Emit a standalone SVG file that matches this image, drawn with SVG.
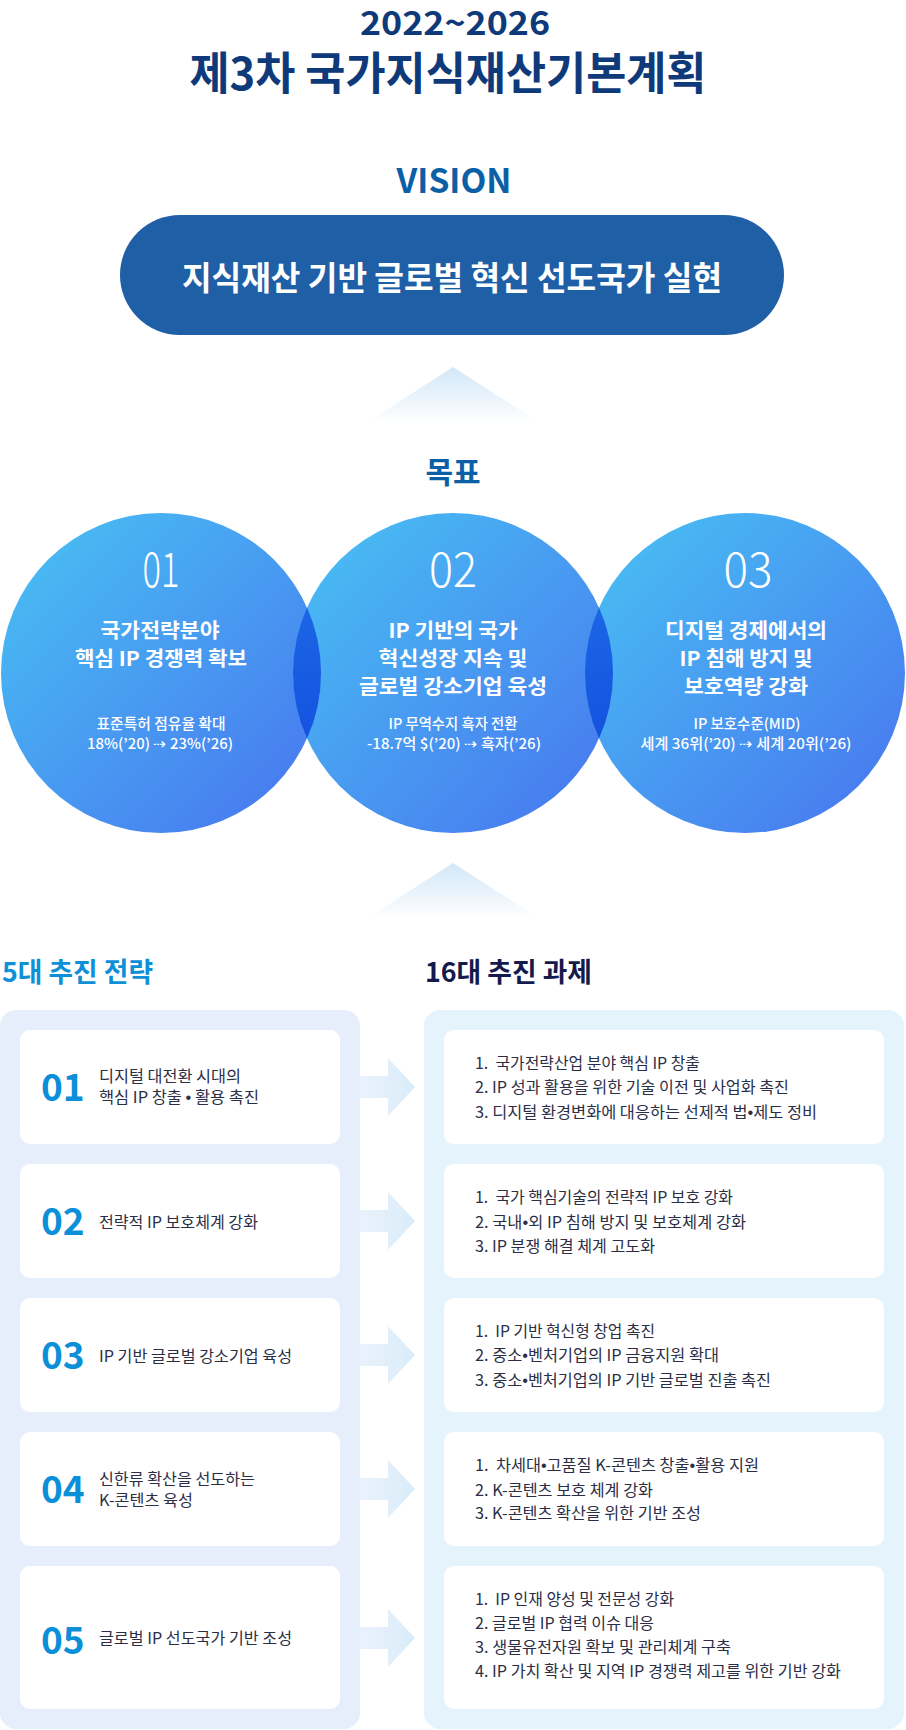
<svg xmlns="http://www.w3.org/2000/svg" width="906" height="1730" viewBox="0 0 906 1730">
<defs>
<style>
text { font-family: "Noto Sans CJK KR", "Noto Sans", sans-serif; }
.hdr { font-weight: 700; fill: #0f3a7a; text-anchor: middle; }
.sec { font-weight: 700; fill: #0b5fa6; text-anchor: middle; }
.ctitle { font-weight: 700; fill: #ffffff; font-size: 20px; text-anchor: middle; }
.csub { font-weight: 500; fill: #ffffff; font-size: 14.5px; text-anchor: middle; }
.cnum { font-weight: 200; fill: #ffffff; font-size: 48px; text-anchor: middle; }
.snum { font-weight: 700; fill: #0a8fd8; font-size: 37px; }
.slbl { font-weight: 400; fill: #2b2e45; font-size: 16px; }
.task { font-weight: 400; fill: #2b2e45; font-size: 16px; white-space: pre; }
.dot { font-family: "Liberation Sans", sans-serif; }
.card { fill: #ffffff; }
</style>
<linearGradient id="gCircle" x1="0" y1="0" x2="1" y2="1">
<stop offset="0" stop-color="#48c3f3"/>
<stop offset="1" stop-color="#4873ef"/>
</linearGradient>
<linearGradient id="gLens" x1="0" y1="0" x2="0" y2="1">
<stop offset="0" stop-color="#1c66e6"/>
<stop offset="1" stop-color="#1452df"/>
</linearGradient>
<linearGradient id="gTri" x1="0" y1="0" x2="0" y2="1">
<stop offset="0" stop-color="#d2e7f8"/>
<stop offset="1" stop-color="#ffffff"/>
</linearGradient>
<linearGradient id="gArrow" gradientUnits="userSpaceOnUse" x1="360" y1="0" x2="415" y2="0">
<stop offset="0" stop-color="#eaf2fc"/>
<stop offset="1" stop-color="#d9ecf9"/>
</linearGradient>
<path id="arrowShape" d="M360,-11 H388 V-29 L415,0 L388,29 V11 H360 Z" fill="url(#gArrow)"/>
</defs>

<rect x="0" y="0" width="906" height="1730" fill="#ffffff"/>

<g id="header">
<text class="hdr" x="455" y="35" font-size="33" textLength="190" lengthAdjust="spacingAndGlyphs">2022~2026</text>
<text class="hdr" x="448" y="90" font-size="45" textLength="517" lengthAdjust="spacingAndGlyphs">제3차 국가지식재산기본계획</text>
</g>

<g id="vision">
<text class="sec" x="454" y="193" font-size="34" textLength="115" lengthAdjust="spacingAndGlyphs">VISION</text>
<rect x="120" y="215" width="664" height="120" rx="60" fill="#1f5fa6"/>
<text x="452" y="290" font-size="33" font-weight="700" fill="#ffffff" text-anchor="middle" textLength="540" lengthAdjust="spacingAndGlyphs">지식재산 기반 글로벌 혁신 선도국가 실현</text>
</g>

<g id="connectors">
<polygon points="453,367 366,423 540,423" fill="url(#gTri)"/>
<polygon points="453,863 366,919 540,919" fill="url(#gTri)"/>
<use href="#arrowShape" transform="translate(0,1087)"/>
<use href="#arrowShape" transform="translate(0,1221)"/>
<use href="#arrowShape" transform="translate(0,1355)"/>
<use href="#arrowShape" transform="translate(0,1489)"/>
<use href="#arrowShape" transform="translate(0,1638)"/>
</g>

<g id="goal-label">
<text class="sec" x="453" y="483" font-size="30">목표</text>
</g>

<g id="goal-circles">
<circle cx="161" cy="673" r="160" fill="url(#gCircle)"/>
<circle cx="453" cy="673" r="160" fill="url(#gCircle)"/>
<circle cx="745" cy="673" r="160" fill="url(#gCircle)"/>
<path d="M307,607.5 A160,160 0 0 1 307,738.5 A160,160 0 0 1 307,607.5 Z" fill="url(#gLens)"/>
<path d="M599,607.5 A160,160 0 0 1 599,738.5 A160,160 0 0 1 599,607.5 Z" fill="url(#gLens)"/>
</g>

<g id="goal-01">
<text class="cnum" x="161" y="587" textLength="37" lengthAdjust="spacingAndGlyphs">01</text>
<text class="ctitle" x="160" y="638" textLength="119" lengthAdjust="spacingAndGlyphs">국가전략분야</text>
<text class="ctitle" x="161" y="666" textLength="172" lengthAdjust="spacingAndGlyphs">핵심 IP 경쟁력 확보</text>
<text class="csub" x="161" y="729" textLength="129" lengthAdjust="spacingAndGlyphs">표준특허 점유율 확대</text>
<text class="csub" x="160" y="749" textLength="146" lengthAdjust="spacingAndGlyphs">18%(’20) ⇢ 23%(’26)</text>
</g>

<g id="goal-02">
<text class="cnum" x="453" y="587" textLength="48" lengthAdjust="spacingAndGlyphs">02</text>
<text class="ctitle" x="453" y="638" textLength="129" lengthAdjust="spacingAndGlyphs">IP 기반의 국가</text>
<text class="ctitle" x="453" y="666" textLength="149" lengthAdjust="spacingAndGlyphs">혁신성장 지속 및</text>
<text class="ctitle" x="453" y="694" textLength="188" lengthAdjust="spacingAndGlyphs">글로벌 강소기업 육성</text>
<text class="csub" x="453" y="729" textLength="129" lengthAdjust="spacingAndGlyphs">IP 무역수지 흑자 전환</text>
<text class="csub" x="454" y="749" textLength="174" lengthAdjust="spacingAndGlyphs">-18.7억 $(’20) ⇢ 흑자(’26)</text>
</g>

<g id="goal-03">
<text class="cnum" x="748" y="587" textLength="49" lengthAdjust="spacingAndGlyphs">03</text>
<text class="ctitle" x="746" y="638" textLength="162" lengthAdjust="spacingAndGlyphs">디지털 경제에서의</text>
<text class="ctitle" x="746" y="666" textLength="133" lengthAdjust="spacingAndGlyphs">IP 침해 방지 및</text>
<text class="ctitle" x="746" y="694" textLength="124" lengthAdjust="spacingAndGlyphs">보호역량 강화</text>
<text class="csub" x="747" y="729" textLength="107" lengthAdjust="spacingAndGlyphs">IP 보호수준(MID)</text>
<text class="csub" x="746" y="749" textLength="211" lengthAdjust="spacingAndGlyphs">세계 36위(’20) ⇢ 세계 20위(’26)</text>
</g>

<g id="strategy-panel">
<text x="2" y="982" font-size="27" font-weight="700" fill="#0e90d8" textLength="151" lengthAdjust="spacingAndGlyphs">5대 추진 전략</text>
<rect x="0" y="1010" width="360" height="719" rx="16" fill="#e6eefc"/>
</g>

<g id="task-panel">
<text x="425" y="982" font-size="27" font-weight="700" fill="#151a4d" textLength="167" lengthAdjust="spacingAndGlyphs">16대 추진 과제</text>
<rect x="424" y="1010" width="480" height="719" rx="16" fill="#e5f4fc"/>
</g>

<g id="strategy-01">
<rect class="card" x="20" y="1030" width="320" height="114" rx="10"/>
<text class="snum" x="41" y="1101">01</text>
<text class="slbl" x="99" y="1082" textLength="142" lengthAdjust="spacingAndGlyphs">디지털 대전환 시대의</text>
<text class="slbl" x="99" y="1103" textLength="160" lengthAdjust="spacingAndGlyphs">핵심 IP 창출 <tspan class="dot">•</tspan> 활용 촉진</text>
</g>

<g id="strategy-02">
<rect class="card" x="20" y="1164" width="320" height="114" rx="10"/>
<text class="snum" x="41" y="1235">02</text>
<text class="slbl" x="99" y="1228" textLength="159" lengthAdjust="spacingAndGlyphs">전략적 IP 보호체계 강화</text>
</g>

<g id="strategy-03">
<rect class="card" x="20" y="1298" width="320" height="114" rx="10"/>
<text class="snum" x="41" y="1369">03</text>
<text class="slbl" x="99" y="1362" textLength="193" lengthAdjust="spacingAndGlyphs">IP 기반 글로벌 강소기업 육성</text>
</g>

<g id="strategy-04">
<rect class="card" x="20" y="1432" width="320" height="114" rx="10"/>
<text class="snum" x="41" y="1503">04</text>
<text class="slbl" x="99" y="1485" textLength="156" lengthAdjust="spacingAndGlyphs">신한류 확산을 선도하는</text>
<text class="slbl" x="99" y="1506" textLength="94" lengthAdjust="spacingAndGlyphs">K-콘텐츠 육성</text>
</g>

<g id="strategy-05">
<rect class="card" x="20" y="1566" width="320" height="143" rx="10"/>
<text class="snum" x="41" y="1654">05</text>
<text class="slbl" x="99" y="1644" textLength="193" lengthAdjust="spacingAndGlyphs">글로벌 IP 선도국가 기반 조성</text>
</g>

<g id="tasks-01">
<rect class="card" x="444" y="1030" width="440" height="114" rx="10"/>
<text class="task" x="475" y="1069" textLength="225" lengthAdjust="spacingAndGlyphs">1.  국가전략산업 분야 핵심 IP 창출</text>
<text class="task" x="475" y="1093" textLength="314" lengthAdjust="spacingAndGlyphs">2. IP 성과 활용을 위한 기술 이전 및 사업화 촉진</text>
<text class="task" x="475" y="1118" textLength="342" lengthAdjust="spacingAndGlyphs">3. 디지털 환경변화에 대응하는 선제적 법<tspan class="dot">•</tspan>제도 정비</text>
</g>

<g id="tasks-02">
<rect class="card" x="444" y="1164" width="440" height="114" rx="10"/>
<text class="task" x="475" y="1203" textLength="258" lengthAdjust="spacingAndGlyphs">1.  국가 핵심기술의 전략적 IP 보호 강화</text>
<text class="task" x="475" y="1228" textLength="271" lengthAdjust="spacingAndGlyphs">2. 국내<tspan class="dot">•</tspan>외 IP 침해 방지 및 보호체계 강화</text>
<text class="task" x="475" y="1252" textLength="180" lengthAdjust="spacingAndGlyphs">3. IP 분쟁 해결 체계 고도화</text>
</g>

<g id="tasks-03">
<rect class="card" x="444" y="1298" width="440" height="114" rx="10"/>
<text class="task" x="475" y="1337" textLength="180" lengthAdjust="spacingAndGlyphs">1.  IP 기반 혁신형 창업 촉진</text>
<text class="task" x="475" y="1361" textLength="244" lengthAdjust="spacingAndGlyphs">2. 중소<tspan class="dot">•</tspan>벤처기업의 IP 금융지원 확대</text>
<text class="task" x="475" y="1386" textLength="296" lengthAdjust="spacingAndGlyphs">3. 중소<tspan class="dot">•</tspan>벤처기업의 IP 기반 글로벌 진출 촉진</text>
</g>

<g id="tasks-04">
<rect class="card" x="444" y="1432" width="440" height="114" rx="10"/>
<text class="task" x="475" y="1471" textLength="284" lengthAdjust="spacingAndGlyphs">1.  차세대<tspan class="dot">•</tspan>고품질 K-콘텐츠 창출<tspan class="dot">•</tspan>활용 지원</text>
<text class="task" x="475" y="1496" textLength="178" lengthAdjust="spacingAndGlyphs">2. K-콘텐츠 보호 체계 강화</text>
<text class="task" x="475" y="1519" textLength="226" lengthAdjust="spacingAndGlyphs">3. K-콘텐츠 확산을 위한 기반 조성</text>
</g>

<g id="tasks-05">
<rect class="card" x="444" y="1566" width="440" height="143" rx="10"/>
<text class="task" x="475" y="1605" textLength="199" lengthAdjust="spacingAndGlyphs">1.  IP 인재 양성 및 전문성 강화</text>
<text class="task" x="475" y="1629" textLength="179" lengthAdjust="spacingAndGlyphs">2. 글로벌 IP 협력 이슈 대응</text>
<text class="task" x="475" y="1653" textLength="256" lengthAdjust="spacingAndGlyphs">3. 생물유전자원 확보 및 관리체계 구축</text>
<text class="task" x="475" y="1677" textLength="366" lengthAdjust="spacingAndGlyphs">4. IP 가치 확산 및 지역 IP 경쟁력 제고를 위한 기반 강화</text>
</g>
</svg>
